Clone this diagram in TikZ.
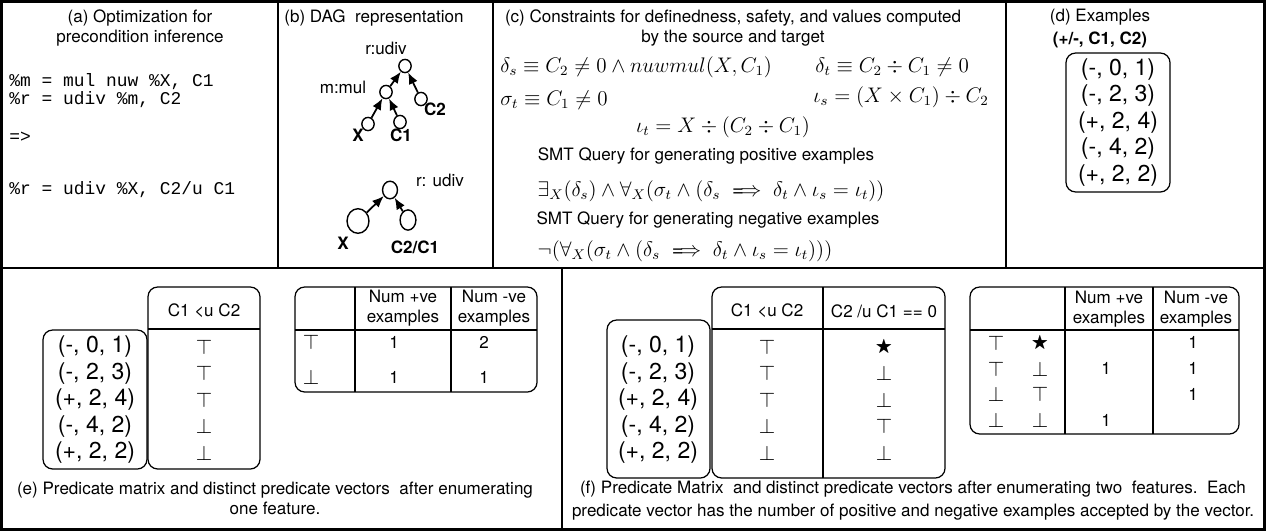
\documentclass[tikz,border=0pt]{standalone}
\usepackage{amsmath,amssymb}
\usepackage{fontspec}
\setmainfont{TeX Gyre Heros}
\setmonofont{Liberation Mono}
\usetikzlibrary{arrows.meta,shapes.geometric}
\newcommand{\exlist}{{(-, 0, 1)},{(-, 2, 3)},{(+, 2, 4)},{(-, 4, 2)},{(+, 2, 2)}}
\newcommand{\starmark}{\mbox{\fontsize{10}{12}\selectfont$\bigstar$}}

\begin{document}
\begin{tikzpicture}[
  x=0.02cm, y=-0.02cm,
  panelrule/.style={line width=1.6pt},
  txt/.style={font=\fontsize{9.7}{11.4}\selectfont, align=center, inner sep=0pt},
  boldtxt/.style={font=\fontsize{9.7}{11.4}\selectfont\bfseries, align=center, inner sep=0pt},
  listing/.style={font=\ttfamily\fontsize{10.2}{10.4}\selectfont, anchor=west, inner sep=0pt},
  formula/.style={font=\fontsize{11.5}{13}\selectfont, inner sep=0pt},
  tuple/.style={font=\fontsize{13.1}{15}\selectfont, inner sep=0pt},
  truth/.style={font=\fontsize{12.5}{14}\selectfont, inner sep=0pt},
  vertex/.style={draw, ellipse, line width=0.8pt, fill=white, inner sep=0pt,
                 minimum width=7pt, minimum height=7.5pt},
  dagarrow/.style={-{Latex[length=2.3mm, width=1.9mm]}, line width=1pt},
  tbox/.style={draw, line width=0.7pt, rounded corners=5.5pt},
  tabrule/.style={line width=0.7pt}
]
  \useasboundingbox (0,0) rectangle (1266,531);

  % Panel frames.
  \draw[panelrule] (1.3,1.3) rectangle (1264.7,529.7);
  \draw[panelrule] (0,268) -- (1266,268);
  \draw[panelrule] (278,0) -- (278,268);
  \draw[panelrule] (493,0) -- (493,268);
  \draw[panelrule] (1006,0) -- (1006,268);
  \draw[panelrule] (562,268) -- (562,531);

  % (a) Optimization.
  \node[txt] (a-title) at (140,28) {(a) Optimization for\\precondition inference};
  \node[listing] (a-src1) at (9,82) {\%m = mul nuw \%X, C1};
  \node[listing] (a-src2) at (9,100) {\%r = udiv \%m, C2};
  \node[listing] (a-to) at (9,137) {=>};
  \node[listing] (a-tgt) at (9,190) {\%r = udiv \%X, C2/u C1};

  % (b) DAG of source and target.
  \node[txt, anchor=west] (b-title) at (284,18) {(b) DAG~~representation};
  \node[txt] (r1-lab) at (386,48) {r:udiv};
  \node[vertex] (r1) at (405,66) {};
  \node[txt] (m1-lab) at (343,87) {m:mul};
  \node[vertex] (m1) at (386,92) {};
  \node[vertex] (c2) at (421,99) {};
  \node[vertex] (x1) at (368,124) {};
  \node[vertex] (c1) at (400,122) {};
  \draw[dagarrow] (m1) -- (r1);
  \draw[dagarrow] (c2) -- (r1);
  \draw[dagarrow] (x1) -- (m1);
  \draw[dagarrow] (c1) -- (m1);
  \node[boldtxt] (c2-lab) at (435,109) {C2};
  \node[boldtxt] (x1-lab) at (358,135) {X};
  \node[boldtxt] (c1-lab) at (401,135) {C1};

  \node[txt] (r2-lab) at (440,180) {r: udiv};
  \node[vertex, minimum width=8.5pt, minimum height=10pt] (r2) at (390,190) {};
  \node[vertex, minimum width=12.5pt, minimum height=14pt] (x2) at (358,221) {};
  \node[vertex, minimum width=9pt, minimum height=11.5pt] (q2) at (408,220) {};
  \draw[dagarrow] (x2) -- (r2);
  \draw[dagarrow] (q2) -- (r2);
  \node[boldtxt] (x2-lab) at (343,243) {X};
  \node[boldtxt] (q2-lab) at (415,247) {C2/C1};

  % (c) Constraints and queries.
  \node[txt] (c-title) at (733,28)
    {(c) Constraints for definedness, safety, and values computed\\by the source and target};
  \node[formula, anchor=west] (ds) at (500,67) {$\delta_s \equiv C_2 \neq 0 \wedge nuwmul(X, C_1)$};
  \node[formula, anchor=west] (dt) at (815,67) {$\delta_t \equiv C_2 \div C_1 \neq 0$};
  \node[formula, anchor=west] (st) at (500,100) {$\sigma_t \equiv C_1 \neq 0$};
  \node[formula, anchor=west] (is) at (813,97) {$\iota_s = (X \times C_1) \div C_2$};
  \node[formula] (it) at (723,127) {$\iota_t = X \div (C_2 \div C_1)$};
  \node[txt] (pos-q) at (706,156) {SMT Query for generating positive examples};
  \node[formula] (pos-f) at (711,191)
    {$\exists_X(\delta_s) \wedge \forall_X(\sigma_t \wedge (\delta_s \implies \delta_t \wedge \iota_s = \iota_t))$};
  \node[txt] (neg-q) at (708,220) {SMT Query for generating negative examples};
  \node[formula] (neg-f) at (685,251)
    {$\neg(\forall_X(\sigma_t \wedge (\delta_s \implies \delta_t \wedge \iota_s = \iota_t)))$};

  % (d) Examples.
  \node[txt] (d-title) at (1100,17) {(d) Examples};
  \node[boldtxt] (d-key) at (1100,40) {(+/-, C1, C2)};
  \draw[tbox] (1066,53) rectangle (1170,192);
  \foreach \t [count=\i] in \exlist
    \node[tuple] (d-ex\i) at (1118,43+26.5*\i) {\t};

  % (e) One feature.
  \draw[tbox] (43,330) rectangle (147,469);
  \draw[tbox] (148,287) rectangle (260,469);
  \draw[tabrule] (148,329) -- (260,329);
  \node[txt] (e-p1) at (204,311) {C1 <u C2};
  \foreach \t [count=\i] in \exlist
    \node[tuple] (e-ex\i) at (95,320.5+26.5*\i) {\t};
  \foreach \v [count=\i] in {\top,\top,\top,\bot,\bot}
    \node[truth] (e-v\i) at (204,320.5+26.5*\i) {$\v$};

  \draw[tbox] (295,287) rectangle (537,392);
  \draw[tabrule] (295,330) -- (537,330);
  \draw[tabrule] (355,287) -- (355,392);
  \draw[tabrule] (451,287) -- (451,392);
  \node[txt] (e-pos) at (403,308) {Num +ve\\examples};
  \node[txt] (e-neg) at (494,308) {Num -ve\\examples};
  \node[truth] (e-top) at (311,342) {$\top$};
  \node[truth] (e-bot) at (311,377) {$\bot$};
  \node[txt] (e-top-pos) at (394,342) {1};
  \node[txt] (e-top-neg) at (484,342) {2};
  \node[txt] (e-bot-pos) at (394,377) {1};
  \node[txt] (e-bot-neg) at (484,377) {1};
  \node[txt] (e-cap) at (275,498)
    {(e) Predicate matrix and distinct predicate vectors~~after enumerating\\one feature.};

  % (f) Two features.
  \draw[tbox] (607,320) rectangle (710,478);
  \draw[tbox] (712,287) rectangle (945,478);
  \draw[tabrule] (712,329) -- (945,329);
  \draw[tabrule] (823,287) -- (823,478);
  \node[txt] (f-p1) at (767,311) {C1 <u C2};
  \node[txt] (f-p2) at (884,311) {C2 /u C1 == 0};
  \foreach \t [count=\i] in \exlist
    \node[tuple] (f-ex\i) at (658,320.5+26.5*\i) {\t};
  \foreach \v [count=\i] in {\top,\top,\top,\bot,\bot}
    \node[truth] (f-v\i) at (767,320.5+26.5*\i) {$\v$};
  \foreach \v [count=\i] in {\starmark,\bot,\bot,\top,\bot}
    \node[truth] (f-w\i) at (884,320.5+26.5*\i) {$\v$};

  \draw[tbox] (970,287) rectangle (1239,434);
  \draw[tabrule] (970,330) -- (1239,330);
  \draw[tabrule] (1065,287) -- (1065,434);
  \draw[tabrule] (1153,287) -- (1153,434);
  \node[txt] (f-pos) at (1109,309) {Num +ve\\examples};
  \node[txt] (f-neg) at (1196,309) {Num -ve\\examples};
  \foreach \u/\w [count=\i] in {\top/\starmark,\top/\bot,\bot/\top,\bot/\bot} {
    \node[truth] (f-a\i) at (996,317.3+25.7*\i) {$\u$};
    \node[truth] (f-b\i) at (1040,317.3+25.7*\i) {$\w$};
  }
  \node[txt] (f-neg1) at (1193,342) {1};
  \node[txt] (f-pos2) at (1106,368) {1};
  \node[txt] (f-neg2) at (1193,368) {1};
  \node[txt] (f-neg3) at (1193,394) {1};
  \node[txt] (f-pos4) at (1106,420) {1};
  \node[txt, font=\fontsize{9.7}{13}\selectfont] (f-cap) at (913,501)
    {(f) Predicate Matrix~~and distinct predicate vectors after enumerating two~~features.~~Each\\predicate vector has the number of positive and negative examples accepted by the vector.};
\end{tikzpicture}
\end{document}
